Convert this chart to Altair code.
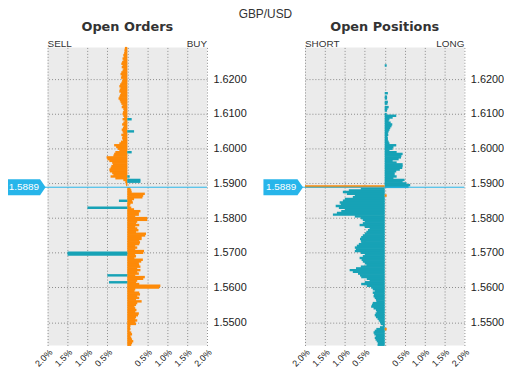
import altair as alt
import pandas as pd

# price buckets (0.0005 apart), top to bottom
price_levels = [round(1.6290 - 0.0005 * i, 4) for i in range(172)]

# Open Orders: orange series (% of book, negative = left side)
orders_orange = [
    -0.06, -0.07, -0.07, -0.08, -0.10, -0.09, -0.12, -0.10, -0.13, -0.15, -0.12, -0.14, -0.10, -0.12, -0.15, -0.17, -0.14, -0.16, -0.12,
    -0.13, -0.15, -0.18, -0.20, -0.17, -0.19, -0.20, -0.16, -0.18, -0.20, -0.22, -0.19, -0.17, -0.15, -0.12, -0.14, -0.10, -0.09, -0.11, -0.12,
    -0.10, -0.08, -0.12, -0.07, -0.10, -0.13, -0.09, -0.11, -0.14, -0.12, -0.10, -0.15, -0.12, -0.13, -0.11, -0.16, -0.20, -0.33, -0.28, -0.24,
    -0.20, -0.30, -0.33, -0.35, -0.52, -0.50, -0.45, -0.38, -0.36, -0.40, -0.42, -0.45, -0.44, -0.38, -0.35, -0.42, -0.30, -0.10, -0.05, -0.04,
    -0.03, 0.00,
    0.08, 0.10, 0.11, 0.44, 0.40, 0.38, 0.17, 0.12, 0.14, 0.08, 0.06, 0.10, 0.17, 0.33, 0.29, 0.29, 0.20, 0.50,
    0.50, 0.25, 0.22, 0.30, 0.20, 0.25, 0.28, 0.22, 0.47, 0.45, 0.36, 0.36, 0.30, 0.32, 0.30, 0.20, 0.25, 0.20,
    0.42, 0.40, 0.20, 0.22, 0.18, 0.39, 0.35, 0.29, 0.30, 0.33, 0.25, 0.33, 0.25, 0.29, 0.20, 0.44, 0.40,
    0.25, 0.22, 0.30, 0.83, 0.80, 0.20, 0.18, 0.30, 0.32, 0.25, 0.30, 0.22, 0.36, 0.25,
    0.22, 0.18, 0.20, 0.23, 0.20, 0.29, 0.27, 0.22, 0.20, 0.25, 0.20, 0.22,
    0.08, 0.07, 0.08, 0.06, 0.10, 0.12, 0.08, 0.10, 0.12, 0.15, 0.12, 0.10,
]

# Open Orders: teal series (sparse)
orders_teal_prices = [1.6085, 1.6050, 1.5990, 1.5920, 1.5910, 1.5905, 1.5850, 1.5830, 1.5700, 1.5695, 1.5635, 1.5615]
orders_teal_values = [0.11, 0.17, 0.11, 0.06, 0.33, 0.33, -0.21, -1.00, -1.50, -1.50, -0.50, -0.46]

# Open Positions: teal series
positions_teal = [
    0, 0, 0, 0, 0, 0, 0, 0, 0, 0,
    0.05,
    0, 0, 0, 0, 0, 0, 0, 0, 0, 0, 0, 0, 0, 0, 0,
    0.08, 0, 0.06, 0.06, 0, 0.08, 0.07, 0, 0.10, 0.07, 0.06, 0, 0.05,
    0.29, 0.20, 0.12, 0.10, 0.15, 0.19, 0.17, 0.14, 0.12, 0.10, 0.08, 0.09, 0.07, 0.08, 0.08, 0.10, 0.12, 0.29, 0.22, 0.20,
    0.12, 0.30, 0.45, 0.42, 0.41, 0.35, 0.20, 0.30, 0.45, 0.45, 0.44, 0.38, 0.29, 0.25, 0.25, 0.30, 0.22, 0.50, 0.45, 0.55,
    0.64, 0.60,
    -0.60, -0.90, -1.05, -0.95, -0.75, -0.80, -1.00, -1.05, -1.13, -1.10, -1.23, -1.15, -1.00, -1.09, -1.20, -1.30, -0.75, -0.60, -0.55, -0.50,
    -0.55, -0.63, -0.50, -0.38, -0.42, -0.46, -0.50, -0.55, -0.59, -0.62, -0.60, -0.59, -0.65, -0.70, -0.75, -0.72, -0.75, -0.60, -0.50, -0.55,
    -0.63, -0.58, -0.55, -0.50, -0.46, -0.60, -0.72, -0.88, -0.80, -0.67, -0.62, -0.59, -0.45, -0.38, -0.50, -0.59, -0.45, -0.34, -0.30, -0.25,
    -0.30, -0.27, -0.28, -0.25, -0.22, -0.21, -0.30, -0.32, -0.34, -0.28, -0.22, -0.20, -0.23, -0.25, -0.22, -0.18, -0.15, -0.12, -0.10, -0.05,
    -0.12, -0.21, -0.25, -0.28, -0.26, -0.22, -0.25, -0.23, -0.20, -0.17, -0.18,
]

# Open Positions: orange series (sparse)
positions_orange_prices = [1.5891, 1.5865, 1.5480]
positions_orange_values = [-2.0, 0.05, 0.05]

current_price = 1.5889
x_ticks = [-2.0, -1.5, -1.0, -0.5, 0.0, 0.5, 1.0, 1.5, 2.0]
y_ticks = [1.55, 1.56, 1.57, 1.58, 1.59, 1.60, 1.61, 1.62]

ORANGE = "#fd8a08"
TEAL = "#17a2b6"
BLUE = "#27b5ea"
HALF = 0.00035
W, H = 161, 301
TAG_PATH = "M-1,-0.4 L0.72,-0.4 L1,0 L0.72,0.4 L-1,0.4 Z"

yscale = alt.Scale(domain=[1.5433, 1.6292], nice=False, zero=False)
xscale = alt.Scale(domain=[-2, 2], nice=False)

X_AXIS = alt.Axis(
    values=x_ticks, title=None, grid=True, gridDash=[1, 2], gridColor="#8a8a8a",
    domain=False, ticks=False, labelAngle=315, labelFontSize=9, labelColor="#222222",
    labelPadding=2, labelFont="Liberation Sans", labelOverlap=False,
    labelExpr="datum.value == 0 ? '' : format(abs(datum.value) / 100, '.1%')")
Y_AXIS = alt.Axis(
    orient="right", values=y_ticks, format=".4f", title=None, grid=True,
    gridDash=[1, 2], gridColor="#8a8a8a", domain=False, ticks=False, labelOverlap=False,
    labelFontSize=11, labelColor="#222222", labelPadding=6, labelFont="Liberation Sans")


def bars(prices, values, color):
    df = pd.DataFrame({"price": prices, "value": values})
    df = df[df["value"] != 0]
    return alt.Chart(df).transform_calculate(
        lo=f"datum.price - {HALF}", hi=f"datum.price + {HALF}"
    ).mark_rect(color=color).encode(
        x=alt.X("value:Q", scale=xscale, axis=X_AXIS),
        x2=alt.datum(0),
        y=alt.Y("lo:Q", scale=yscale, axis=Y_AXIS),
        y2="hi:Q",
    )


def label(text, x, y, **kw):
    return alt.Chart(pd.DataFrame({"t": [text]})).mark_text(**kw).encode(
        text="t:N", x=alt.value(x), y=alt.value(y))


def price_marker():
    d = pd.DataFrame({"p": [current_price]})
    yenc = alt.Y("p:Q", scale=yscale, axis=Y_AXIS)
    line = alt.Chart(d).mark_rule(color=BLUE, strokeWidth=1).encode(
        y=yenc, x=alt.value(-4), x2=alt.value(W))
    tag = alt.Chart(d).mark_point(shape=TAG_PATH, size=1600, filled=True, opacity=1,
                                  color=BLUE, strokeWidth=0).encode(
        y=yenc, x=alt.value(-22))
    txt = alt.Chart(d).mark_text(color="white", fontSize=10, font="Liberation Sans").encode(
        y=yenc, x=alt.value(-24), text=alt.Text("p:Q", format=".4f"))
    return [line, tag, txt]


def panel(title, left_lbl, right_lbl, layers, extra):
    heads = [
        label(title, W / 2, -21, fontSize=13, fontWeight="bold", font="DejaVu Sans", color="#333333"),
        label(left_lbl, 0, -3, align="left", fontSize=10, font="Liberation Sans", color="#333333"),
        label(right_lbl, W, -3, align="right", fontSize=10, font="Liberation Sans", color="#333333"),
    ]
    return alt.layer(*layers, *price_marker(), *heads, *extra).properties(width=W, height=H)


left = panel(
    "Open Orders", "SELL", "BUY",
    [bars(price_levels, orders_orange, ORANGE),
     bars(orders_teal_prices, orders_teal_values, TEAL)],
    [label("GBP/USD", 220, -34, fontSize=12, font="Liberation Sans", color="#333333")],
)
right = panel(
    "Open Positions", "SHORT", "LONG",
    [bars(price_levels, positions_teal, TEAL),
     bars(positions_orange_prices, positions_orange_values, ORANGE)],
    [],
)

chart = alt.hconcat(left, right, spacing=99, bounds="flush").properties(
    padding={"left": -2, "top": -2, "right": 0, "bottom": 0}
).configure_view(fill="#ebebeb", stroke=None)

chart.save("out.html", embed_options={"renderer": "svg", "actions": False})
